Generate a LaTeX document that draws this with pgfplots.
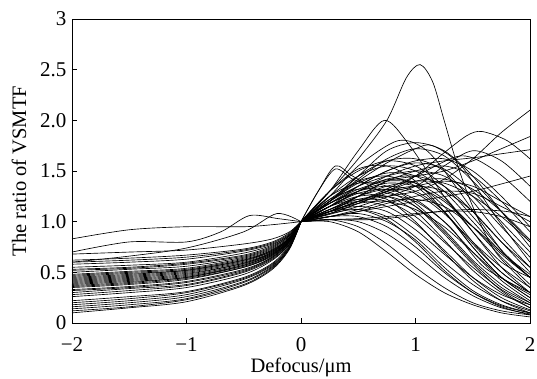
\documentclass[border=0pt]{standalone}
\usepackage{pgfplots}
\pgfplotsset{compat=1.18}
\usepackage{fontspec}
\setmainfont{Liberation Serif}
\newcommand\tl[1]{\hbox{\fontsize{21}{24}\selectfont #1}}
\begin{document}
\begin{tikzpicture}[font=\fontsize{20.5}{24}\selectfont]
\path[use as bounding box] (-72pt,-56pt) rectangle (465pt,323pt);
\begin{axis}[
 at={(0,0)}, anchor=south west,
 scale only axis, width=458pt, height=304pt,
 xmin=-2, xmax=2, ymin=0, ymax=3,
 xtick={-2,-1,0,1,2}, xticklabels={\tl{−2},\tl{−1},\tl{0},\tl{1},\tl{2}},
 ytick={0,0.5,1,1.5,2,2.5,3}, yticklabels={\tl{0},\tl{0.5},\tl{1.0},\tl{1.5},\tl{2.0},\tl{2.5},\tl{3}},
 xticklabel shift=11pt,
 yticklabel shift=2pt,
 tick pos=left, tick align=inside, major tick length=5pt,
 tick style={line width=0.8pt, black},
 label style={font=\fontsize{20.5}{24}\selectfont},
 xlabel shift=-1pt,
 ylabel shift=7pt,
 xlabel={Defocus/μm}, ylabel={The ratio of VSMTF},
 axis line style={line width=0.9pt},
 cycle list={{black,solid,mark=none}},
 no markers,
 every axis plot/.append style={black, line width=0.65pt, smooth, mark=none},
]
% ---- left half (defocus < 0) ----
\addplot coordinates {(-2,0.83)(-1.5,0.92)(-1,0.95)(-0.5,0.95)(-0.25,0.97)(0,1)};
\addplot coordinates {(-2,0.7)(-1.5,0.8)(-1,0.8)(-0.7,0.9)(-0.45,1.06)(-0.2,1.03)(0,1)};
\addplot coordinates {(-2,0.6)(-1.5,0.66)(-1,0.74)(-0.5,0.9)(-0.21,1.08)(0,1)};
\addplot coordinates {(-2,0.68)(-1.5,0.70)(-1,0.72)(-0.5,0.78)(-0.25,0.83)(-0.1,0.90)(0,1)};
\addplot coordinates {(-2,0.62)(-1.5,0.64)(-1,0.67)(-0.5,0.73)(-0.25,0.80)(-0.1,0.89)(0,1)};
\addplot coordinates {(-2,0.60)(-1.5,0.62)(-1,0.65)(-0.5,0.72)(-0.25,0.79)(-0.1,0.88)(0,1)};
\addplot coordinates {(-2,0.58)(-1.5,0.60)(-1,0.63)(-0.5,0.71)(-0.25,0.78)(-0.1,0.87)(0,1)};
\addplot coordinates {(-2,0.55)(-1.5,0.57)(-1,0.60)(-0.5,0.69)(-0.25,0.77)(-0.1,0.87)(0,1)};
\addplot coordinates {(-2,0.53)(-1.5,0.55)(-1,0.59)(-0.5,0.67)(-0.25,0.76)(-0.1,0.86)(0,1)};
\addplot coordinates {(-2,0.52)(-1.5,0.54)(-1,0.58)(-0.5,0.66)(-0.25,0.75)(-0.1,0.86)(0,1)};
\addplot coordinates {(-2,0.50)(-1.5,0.53)(-1,0.56)(-0.5,0.65)(-0.25,0.74)(-0.1,0.85)(0,1)};
\addplot coordinates {(-2,0.48)(-1.5,0.51)(-1,0.54)(-0.5,0.64)(-0.25,0.73)(-0.1,0.84)(0,1)};
\addplot coordinates {(-2,0.47)(-1.5,0.50)(-1,0.53)(-0.5,0.63)(-0.25,0.72)(-0.1,0.84)(0,1)};
\addplot coordinates {(-2,0.46)(-1.5,0.49)(-1,0.52)(-0.5,0.62)(-0.25,0.72)(-0.1,0.84)(0,1)};
\addplot coordinates {(-2,0.45)(-1.5,0.48)(-1,0.52)(-0.5,0.62)(-0.25,0.71)(-0.1,0.84)(0,1)};
\addplot coordinates {(-2,0.44)(-1.5,0.47)(-1,0.51)(-0.5,0.61)(-0.25,0.71)(-0.1,0.83)(0,1)};
\addplot coordinates {(-2,0.43)(-1.5,0.46)(-1,0.50)(-0.5,0.60)(-0.25,0.70)(-0.1,0.83)(0,1)};
\addplot coordinates {(-2,0.42)(-1.5,0.45)(-1,0.49)(-0.5,0.59)(-0.25,0.70)(-0.1,0.83)(0,1)};
\addplot coordinates {(-2,0.41)(-1.5,0.44)(-1,0.48)(-0.5,0.59)(-0.25,0.69)(-0.1,0.82)(0,1)};
\addplot coordinates {(-2,0.40)(-1.5,0.43)(-1,0.47)(-0.5,0.58)(-0.25,0.69)(-0.1,0.82)(0,1)};
\addplot coordinates {(-2,0.39)(-1.5,0.42)(-1,0.46)(-0.5,0.57)(-0.25,0.68)(-0.1,0.82)(0,1)};
\addplot coordinates {(-2,0.38)(-1.5,0.41)(-1,0.45)(-0.5,0.57)(-0.25,0.68)(-0.1,0.81)(0,1)};
\addplot coordinates {(-2,0.37)(-1.5,0.40)(-1,0.45)(-0.5,0.56)(-0.25,0.67)(-0.1,0.81)(0,1)};
\addplot coordinates {(-2,0.36)(-1.5,0.39)(-1,0.44)(-0.5,0.55)(-0.25,0.67)(-0.1,0.81)(0,1)};
\addplot coordinates {(-2,0.35)(-1.5,0.38)(-1,0.43)(-0.5,0.55)(-0.25,0.66)(-0.1,0.81)(0,1)};
\addplot coordinates {(-2,0.33)(-1.5,0.36)(-1,0.41)(-0.5,0.53)(-0.25,0.65)(-0.1,0.80)(0,1)};
\addplot coordinates {(-2,0.32)(-1.5,0.35)(-1,0.40)(-0.5,0.52)(-0.25,0.65)(-0.1,0.80)(0,1)};
\addplot coordinates {(-2,0.30)(-1.5,0.34)(-1,0.38)(-0.5,0.51)(-0.25,0.64)(-0.1,0.79)(0,1)};
\addplot coordinates {(-2,0.28)(-1.5,0.32)(-1,0.37)(-0.5,0.50)(-0.25,0.63)(-0.1,0.78)(0,1)};
\addplot coordinates {(-2,0.26)(-1.5,0.30)(-1,0.35)(-0.5,0.48)(-0.25,0.62)(-0.1,0.78)(0,1)};
\addplot coordinates {(-2,0.22)(-1.5,0.26)(-1,0.31)(-0.5,0.45)(-0.25,0.59)(-0.1,0.77)(0,1)};
\addplot coordinates {(-2,0.20)(-1.5,0.24)(-1,0.30)(-0.5,0.44)(-0.25,0.58)(-0.1,0.76)(0,1)};
\addplot coordinates {(-2,0.18)(-1.5,0.22)(-1,0.28)(-0.5,0.43)(-0.25,0.57)(-0.1,0.75)(0,1)};
\addplot coordinates {(-2,0.16)(-1.5,0.20)(-1,0.26)(-0.5,0.41)(-0.25,0.56)(-0.1,0.75)(0,1)};
\addplot coordinates {(-2,0.14)(-1.5,0.18)(-1,0.24)(-0.5,0.40)(-0.25,0.55)(-0.1,0.74)(0,1)};
\addplot coordinates {(-2,0.12)(-1.5,0.16)(-1,0.23)(-0.5,0.38)(-0.25,0.54)(-0.1,0.74)(0,1)};
\addplot coordinates {(-2,0.10)(-1.5,0.15)(-1,0.21)(-0.5,0.37)(-0.25,0.53)(-0.1,0.73)(0,1)};
% ---- right half (defocus > 0) ----
\addplot coordinates {(0,1)(0.25,1.3)(0.5,1.62)(0.75,2.0)(0.92,2.42)(1.04,2.55)(1.15,2.38)(1.25,2.0)(1.36,1.58)(1.5,1.15)(1.7,0.7)(2,0.35)};
\addplot coordinates {(0,1)(0.25,1.3)(0.5,1.7)(0.73,2.0)(0.95,1.75)(1.25,1.25)(1.5,0.9)(1.75,0.6)(2,0.45)};
\addplot coordinates {(0,1)(0.25,1.1)(0.5,1.2)(0.75,1.25)(1,1.3)(1.25,1.42)(1.5,1.62)(1.75,1.88)(2,2.1)};
\addplot coordinates {(0,1)(0.25,1.08)(0.5,1.18)(0.75,1.3)(1,1.45)(1.25,1.68)(1.45,1.85)(1.58,1.89)(1.8,1.8)(2,1.62)};
\addplot coordinates {(0,1)(0.25,1.1)(0.5,1.25)(0.75,1.4)(1,1.45)(1.25,1.5)(1.5,1.6)(1.75,1.72)(2,1.84)};
\addplot coordinates {(0,1)(0.25,1.25)(0.5,1.55)(0.85,1.8)(1.1,1.7)(1.35,1.35)(1.6,0.95)(1.8,0.65)(2,0.45)};
\addplot coordinates {(0,1)(0.15,1.3)(0.3,1.55)(0.45,1.45)(0.7,1.3)(1,1.2)(1.3,0.95)(1.6,0.55)(2,0.3)};
\addplot coordinates {(0,1)(0.5,1.3)(0.75,1.45)(1,1.55)(1.25,1.6)(1.5,1.63)(1.75,1.67)(2,1.71)};
\addplot coordinates {(0,1)(0.25,1.2)(0.5,1.4)(0.75,1.58)(1,1.72)(1.15,1.75)(1.4,1.55)(1.7,1.05)(2,0.6)};
\addplot coordinates {(0,1)(0.5,1.2)(1,1.45)(1.4,1.65)(1.7,1.5)(2,1.2)};
\addplot coordinates {(0,1)(0.5,1.15)(1,1.35)(1.25,1.55)(1.5,1.7)(1.75,1.6)(2,1.35)};
\addplot coordinates {(0,1)(0.5,1.1)(1,1.2)(1.5,1.3)(2,1.45)};
\addplot coordinates {(0,1)(0.25,1.2)(0.5,1.45)(0.75,1.6)(1,1.62)(1.25,1.5)(1.5,1.2)(1.75,0.85)(2,0.55)};
\addplot coordinates {(0,1)(0.25,1.15)(0.5,1.35)(0.75,1.5)(1,1.58)(1.25,1.52)(1.5,1.3)(1.75,1.0)(2,0.7)};
\addplot coordinates {(0,1)(0.25,1.2)(0.5,1.38)(0.75,1.48)(1,1.45)(1.25,1.25)(1.5,0.9)(1.75,0.55)(2,0.3)};
\addplot coordinates {(0,1)(0.25,1.18)(0.5,1.3)(0.75,1.35)(1,1.3)(1.25,1.1)(1.5,0.75)(1.75,0.45)(2,0.25)};
\addplot coordinates {(0,1)(0.25,1.1)(0.5,1.2)(0.75,1.3)(1,1.35)(1.25,1.3)(1.5,1.1)(1.75,0.8)(2,0.5)};
\addplot coordinates {(0,1)(0.25,1.12)(0.5,1.22)(0.75,1.25)(1,1.15)(1.25,0.9)(1.5,0.6)(1.75,0.35)(2,0.2)};
\addplot coordinates {(0,1)(0.25,1.05)(0.5,1.05)(0.75,0.95)(1,0.75)(1.25,0.5)(1.5,0.3)(1.75,0.17)(2,0.1)};
\addplot coordinates {(0,1)(0.25,1.02)(0.5,0.95)(0.75,0.78)(1,0.55)(1.25,0.35)(1.5,0.2)(1.75,0.12)(2,0.08)};
\addplot coordinates {(0,1)(0.25,1.1)(0.5,1.15)(0.75,1.1)(1,0.92)(1.25,0.68)(1.5,0.45)(1.75,0.28)(2,0.18)};
\addplot coordinates {(0,1)(0.25,1.15)(0.5,1.3)(0.75,1.38)(1,1.35)(1.25,1.2)(1.5,0.95)(1.75,0.68)(2,0.45)};
\addplot coordinates {(0,1)(0.25,1.2)(0.5,1.35)(0.75,1.45)(1,1.5)(1.25,1.45)(1.5,1.25)(1.75,0.95)(2,0.65)};
\addplot coordinates {(0,1)(0.25,1.25)(0.5,1.45)(0.75,1.55)(1,1.5)(1.25,1.3)(1.5,1.0)(1.75,0.7)(2,0.48)};
\addplot coordinates {(0,1)(0.25,1.1)(0.5,1.25)(0.75,1.4)(1,1.5)(1.25,1.55)(1.5,1.45)(1.75,1.2)(2,0.9)};
\addplot coordinates {(0,1)(0.25,1.05)(0.5,1.1)(0.75,1.18)(1,1.25)(1.25,1.3)(1.5,1.28)(1.75,1.15)(2,1.0)};
\addplot coordinates {(0,1)(0.25,1.02)(0.5,1.03)(0.75,1.05)(1,1.08)(1.25,1.1)(1.5,1.1)(1.75,1.05)(2,0.95)};
\addplot coordinates {(0,1)(0.25,1.1)(0.5,1.18)(0.75,1.2)(1,1.12)(1.25,0.95)(1.5,0.7)(1.75,0.45)(2,0.28)};
\addplot coordinates {(0,1)(0.25,1.22)(0.5,1.4)(0.75,1.45)(1,1.35)(1.25,1.1)(1.5,0.78)(1.75,0.5)(2,0.3)};
\addplot coordinates {(0,1)(0.25,1.3)(0.5,1.5)(0.75,1.6)(1,1.55)(1.25,1.35)(1.5,1.05)(1.75,0.72)(2,0.45)};
\addplot coordinates {(0,1)(0.25,1.15)(0.5,1.25)(0.75,1.25)(1,1.1)(1.25,0.82)(1.5,0.52)(1.75,0.3)(2,0.15)};
\addplot coordinates {(0,1)(0.25,1.08)(0.5,1.12)(0.75,1.05)(1,0.85)(1.25,0.6)(1.5,0.38)(1.75,0.22)(2,0.12)};
\addplot coordinates {(0,1)(0.25,1.0)(0.5,0.9)(0.75,0.7)(1,0.48)(1.25,0.3)(1.5,0.18)(1.75,0.1)(2,0.06)};
\addplot coordinates {(0,1)(0.25,1.18)(0.5,1.35)(0.75,1.5)(1,1.6)(1.25,1.62)(1.5,1.5)(1.75,1.25)(2,0.95)};
\addplot coordinates {(0,1)(0.25,1.2)(0.5,1.42)(0.75,1.62)(1,1.72)(1.25,1.65)(1.5,1.4)(1.75,1.1)(2,0.8)};
\addplot coordinates {(0,1)(0.25,1.12)(0.5,1.25)(0.75,1.35)(1,1.4)(1.25,1.38)(1.5,1.25)(1.75,1.05)(2,0.8)};
\addplot coordinates {(0,1)(0.25,1.15)(0.5,1.28)(0.75,1.32)(1,1.22)(1.25,1.0)(1.5,0.7)(1.75,0.42)(2,0.22)};
\addplot coordinates {(0,1)(0.25,1.25)(0.5,1.38)(0.75,1.35)(1,1.18)(1.25,0.92)(1.5,0.62)(1.75,0.38)(2,0.2)};
\addplot coordinates {(0,1)(0.25,1.05)(0.5,1.12)(0.75,1.2)(1,1.22)(1.25,1.15)(1.5,0.95)(1.75,0.7)(2,0.45)};
\addplot coordinates {(0,1)(0.25,1.1)(0.5,1.2)(0.75,1.3)(1,1.4)(1.25,1.42)(1.5,1.32)(1.75,1.1)(2,0.82)};
\addplot coordinates {(0,1)(0.25,1.05)(0.5,1.08)(0.75,1.0)(1,0.82)(1.25,0.55)(1.5,0.32)(1.75,0.18)(2,0.1)};
\addplot coordinates {(0,1)(0.25,1.12)(0.5,1.2)(0.75,1.15)(1,0.98)(1.25,0.72)(1.5,0.45)(1.75,0.25)(2,0.13)};
\addplot coordinates {(0,1)(0.25,1.3)(0.5,1.52)(0.75,1.55)(1,1.4)(1.25,1.1)(1.5,0.75)(1.75,0.45)(2,0.25)};
\addplot coordinates {(0,1)(0.25,1.08)(0.5,1.18)(0.75,1.28)(1,1.35)(1.25,1.4)(1.5,1.35)(1.75,1.2)(2,1.05)};
\addplot coordinates {(0,1)(0.25,1.15)(0.5,1.3)(0.75,1.42)(1,1.45)(1.25,1.35)(1.5,1.1)(1.75,0.8)(2,0.55)};
\addplot coordinates {(0,1)(0.25,1.02)(0.5,1.0)(0.75,0.88)(1,0.68)(1.25,0.45)(1.5,0.27)(1.75,0.15)(2,0.09)};
\addplot coordinates {(0,1)(0.25,1.18)(0.5,1.32)(0.75,1.4)(1,1.38)(1.25,1.22)(1.5,0.95)(1.75,0.65)(2,0.38)};
\addplot coordinates {(0,1)(0.25,1.2)(0.5,1.45)(0.75,1.7)(1,1.78)(1.25,1.7)(1.5,1.45)(1.75,1.1)(2,0.75)};
\addplot coordinates {(0,1)(0.25,1.15)(0.5,1.22)(0.75,1.2)(1,1.05)(1.25,0.8)(1.5,0.55)(1.75,0.33)(2,0.18)};
\addplot coordinates {(0,1)(0.25,1.22)(0.5,1.32)(0.75,1.3)(1,1.15)(1.25,0.88)(1.5,0.58)(1.75,0.32)(2,0.15)};
\addplot coordinates {(0,1)(0.3,1.02)(0.6,1.02)(0.9,1.05)(1.2,1.1)(1.5,1.12)(1.8,1.1)(2,1.05)};
\addplot coordinates {(0,1)(0.15,1.3)(0.3,1.52)(0.45,1.42)(0.6,1.38)(0.8,1.42)(1,1.38)(1.25,1.15)(1.5,0.8)(1.75,0.5)(2,0.3)};
\addplot coordinates {(0,1)(0.25,1.1)(0.5,1.12)(0.75,1.02)(1,0.8)(1.25,0.52)(1.5,0.3)(1.75,0.16)(2,0.08)};
\addplot coordinates {(0,1)(0.25,1.18)(0.5,1.28)(0.75,1.22)(1,1.0)(1.25,0.7)(1.5,0.42)(1.75,0.22)(2,0.1)};
\addplot coordinates {(0,1)(0.25,1.12)(0.5,1.25)(0.75,1.32)(1,1.28)(1.25,1.08)(1.5,0.8)(1.75,0.55)(2,0.35)};
\end{axis}
\end{tikzpicture}
\end{document}
